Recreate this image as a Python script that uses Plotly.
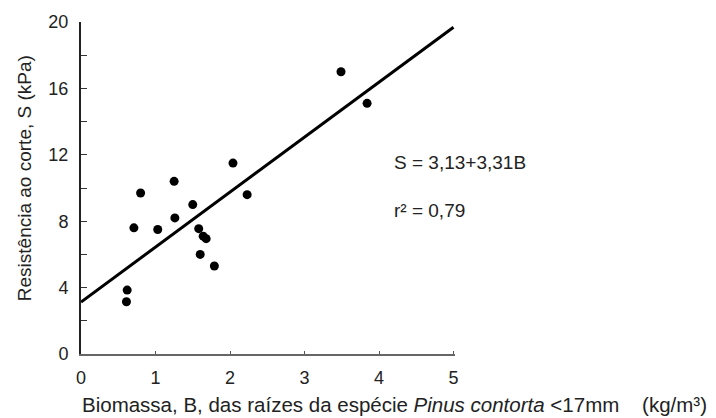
import plotly.graph_objects as go

# Data
biomassa = [0.61, 0.62, 0.71, 0.80, 1.03, 1.25, 1.26, 1.50, 1.58, 1.60, 1.64, 1.68, 1.79, 2.04, 2.23, 3.49, 3.84]
resistencia = [3.15, 3.85, 7.6, 9.7, 7.5, 10.4, 8.2, 9.0, 7.55, 6.0, 7.1, 6.95, 5.3, 11.5, 9.6, 17.0, 15.1]

fit_intercept = 3.13
fit_slope = 3.31
fit_x = [0, 5]
fit_y = [fit_intercept + fit_slope * v for v in fit_x]

x_ticks = [0, 1, 2, 3, 4, 5]
y_ticks = [0, 4, 8, 12, 16, 20]

FONT = "Arial, Liberation Sans, sans-serif"

fig = go.Figure()
fig.add_trace(go.Scatter(x=fit_x, y=fit_y, mode="lines",
                         line=dict(color="black", width=3), showlegend=False))
fig.add_trace(go.Scatter(x=biomassa, y=resistencia, mode="markers",
                         marker=dict(color="black", size=9), showlegend=False))

fig.update_layout(
    width=716, height=418,
    margin=dict(l=81, r=261, t=18, b=64),
    paper_bgcolor="white", plot_bgcolor="white",
    font=dict(family=FONT, size=18, color="#222"),
    xaxis=dict(range=[0, 5.02], tickvals=x_ticks, ticks="inside", ticklen=3,
               tickcolor="#555", showline=True, linecolor="#666", linewidth=2,
               showgrid=False, zeroline=False, ticklabelstandoff=6,
               tickfont=dict(size=18, color="#222")),
    yaxis=dict(range=[0, 20], tickvals=y_ticks, ticks="inside", ticklen=6,
               tickcolor="#333", showline=True, linecolor="#222", linewidth=2,
               showgrid=False, zeroline=False, ticklabelstandoff=7,
               tickfont=dict(size=18, color="#222"),
               minor=dict(dtick=2, ticks="inside", ticklen=6, tickcolor="#333")),
    annotations=[
        dict(text="Resistência ao corte, S (kPa)", xref="paper", yref="paper",
             x=-0.152, y=0.53, xanchor="center", yanchor="middle", textangle=-90,
             showarrow=False, font=dict(size=19, color="#222")),
        dict(text="Biomassa, B, das raízes da espécie <i>Pinus contorta</i> &lt;17mm&nbsp;&nbsp;&nbsp;&nbsp;(kg/m³)",
             xref="paper", yref="paper", x=-0.003, y=-0.152, xanchor="left", yanchor="middle",
             showarrow=False, font=dict(size=20.5, color="#222")),
        dict(text="S = 3,13+3,31B", xref="x", yref="y", x=4.17, y=11.55,
             xanchor="left", yanchor="middle", showarrow=False,
             font=dict(size=19, color="#222")),
        dict(text="r² = 0,79", xref="x", yref="y", x=4.17, y=8.63,
             xanchor="left", yanchor="middle", showarrow=False,
             font=dict(size=19, color="#222")),
    ],
)

fig.write_html("out.html")
